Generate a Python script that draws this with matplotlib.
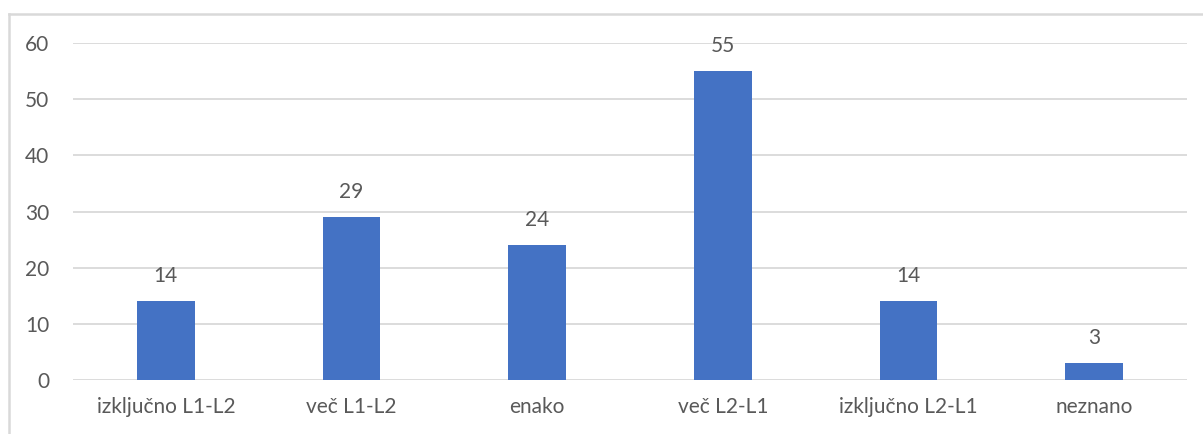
import matplotlib
matplotlib.use("Agg")
import matplotlib.pyplot as plt
from matplotlib.lines import Line2D

categories = ["izključno L1-L2", "več L1-L2", "enako", "več L2-L1", "izključno L2-L1", "neznano"]
values = [14, 29, 24, 55, 14, 3]
yticks = [0, 10, 20, 30, 40, 50, 60]

W, H = 1203, 434
fig = plt.figure(figsize=(W / 100, H / 100), dpi=100)
fig.patch.set_facecolor("white")

plt.rcParams["font.family"] = ["Lato", "DejaVu Sans"]
text_color = "#595959"
grid_color = "#d9d9d9"
bar_color = "#4472C4"

# outer chart frame (top and left edges visible)
fig.add_artist(Line2D([9 / W, 9 / W], [0, 1 - 14 / H], transform=fig.transFigure,
                      color="#d9d9d9", lw=1.8))
fig.add_artist(Line2D([9 / W, 1], [1 - 14 / H, 1 - 14 / H], transform=fig.transFigure,
                      color="#d9d9d9", lw=1.8))

left, right = 73 / W, 1187 / W
top, bottom = 43 / H, 380 / H
ax = fig.add_axes([left, 1 - bottom, right - left, bottom - top])

x = list(range(len(categories)))
bars = ax.bar(x, values, width=0.31, color=bar_color, zorder=3)

ax.set_xlim(-0.5, len(categories) - 0.5)
ax.set_ylim(0, 60)
ax.set_yticks(yticks)
ax.set_xticks(x)
ax.set_xticklabels(categories)

for spine in ax.spines.values():
    spine.set_visible(False)
ax.yaxis.grid(True, color=grid_color, lw=1.3, zorder=0)
ax.set_axisbelow(True)
ax.tick_params(axis="both", length=0, colors=text_color, labelsize=15)
ax.tick_params(axis="y", pad=17)
ax.tick_params(axis="x", pad=12)

for b, v in zip(bars, values):
    ax.annotate(str(v), (b.get_x() + b.get_width() / 2, v), xytext=(0, 11),
                textcoords="offset points", ha="center", va="bottom",
                color=text_color, fontsize=15)

fig.savefig("out.png", dpi=100, facecolor="white")
